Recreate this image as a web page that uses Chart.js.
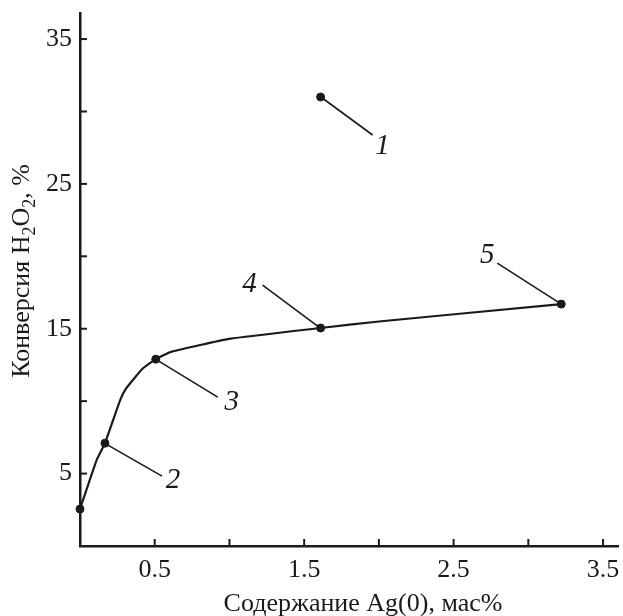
<!DOCTYPE html>
<html>
<head>
<meta charset="utf-8">
<script src="https://cdn.jsdelivr.net/npm/chart.js@4"></script>
<style>
  html, body { margin: 0; padding: 0; background: #fff; }
  #wrap { width: 623px; height: 616px; }
</style>
</head>
<body>
<div id="wrap"><canvas id="chart" width="623" height="616"></canvas></div>
<script>
// Кривая конверсии (точки)
const curveX = [0, 0.11, 0.167, 0.27, 0.31, 0.42, 0.507, 0.61, 1.0, 1.61, 2.0, 3.22];
const curveY = [2.55, 5.9, 7.1, 10.1, 10.9, 12.25, 12.9, 13.4, 14.3, 15.05, 15.5, 16.7];

// Экспериментальные точки и их номера
const markerX      = [0, 1.61, 0.167, 0.507, 1.61, 3.22];
const markerY      = [2.55, 31.0, 7.1, 12.9, 15.05, 16.7];
const markerLabels = ["", "1", "2", "3", "4", "5"];

// Деления осей
const xTicks      = [0.5, 1, 1.5, 2, 2.5, 3, 3.5];
const xTickLabels = ["0.5", "1.5", "2.5", "3.5"];
const yTicks      = [5, 10, 15, 20, 25, 30, 35];
const yTickLabels = ["5", "15", "25", "35"];

const xTitle = "Содержание Ag(0), мас%";
// [текст, нижний индекс?]
const yTitleParts = [["Конверсия H", false], ["2", true], ["O", false], ["2", true], [", %", false]];

// Выноски: смещения в пикселях от точки (линия и подпись)
const LEADERS = {
  "1": { line: [3, 2, 52, 38],    text: [62, 48] },
  "2": { line: [3, 2, 57, 33],    text: [68, 36] },
  "3": { line: [3, 2, 62, 38],    text: [76, 42] },
  "4": { line: [-58, -43, -3, -2], text: [-71, -45] },
  "5": { line: [-64, -41, -3, -2], text: [-74, -50] }
};

const INK   = "#1a1a1a";
const SERIF = "'Liberation Serif', 'Times New Roman', serif";

const toXY = (xs, ys) => xs.map((x, i) => ({ x, y: ys[i] }));

// Засечки внутрь области графика
const innerTicks = {
  id: "innerTicks",
  afterDraw(chart) {
    const { ctx, chartArea: a, scales: { x, y } } = chart;
    ctx.save();
    ctx.strokeStyle = INK;
    ctx.lineWidth = 2;
    xTicks.forEach(v => {
      const px = x.getPixelForValue(v);
      ctx.beginPath(); ctx.moveTo(px, a.bottom); ctx.lineTo(px, a.bottom - 7); ctx.stroke();
    });
    yTicks.forEach(v => {
      const py = y.getPixelForValue(v);
      ctx.beginPath(); ctx.moveTo(a.left, py); ctx.lineTo(a.left + 7, py); ctx.stroke();
    });
    ctx.restore();
  }
};

// Подписи осей (с нижними индексами)
const axisTitles = {
  id: "axisTitles",
  afterDraw(chart) {
    const { ctx } = chart;
    ctx.save();
    ctx.fillStyle = INK;
    ctx.textBaseline = "alphabetic";
    ctx.font = `26px ${SERIF}`;
    ctx.textAlign = "center";
    ctx.fillText(xTitle, 363, 611);

    // вертикальная подпись
    const big = `26px ${SERIF}`, small = `18px ${SERIF}`;
    let total = 0;
    yTitleParts.forEach(([t, sub]) => { ctx.font = sub ? small : big; total += ctx.measureText(t).width; });
    ctx.translate(29, 271);
    ctx.rotate(-Math.PI / 2);
    ctx.textAlign = "left";
    let cx = -total / 2;
    yTitleParts.forEach(([t, sub]) => {
      ctx.font = sub ? small : big;
      ctx.fillText(t, cx, sub ? 6 : 0);
      cx += ctx.measureText(t).width;
    });
    ctx.restore();
  }
};

// Выноски с номерами точек
const leaders = {
  id: "leaders",
  afterDatasetsDraw(chart) {
    const { ctx, scales: { x, y } } = chart;
    ctx.save();
    ctx.strokeStyle = INK;
    ctx.fillStyle = INK;
    ctx.lineWidth = 1.6;
    ctx.font = `italic 29px ${SERIF}`;
    ctx.textAlign = "center";
    ctx.textBaseline = "middle";
    markerLabels.forEach((lbl, i) => {
      const cfg = LEADERS[lbl];
      if (!cfg) return;
      const px = x.getPixelForValue(markerX[i]);
      const py = y.getPixelForValue(markerY[i]);
      const [x1, y1, x2, y2] = cfg.line;
      ctx.beginPath(); ctx.moveTo(px + x1, py + y1); ctx.lineTo(px + x2, py + y2); ctx.stroke();
      ctx.fillText(lbl, px + cfg.text[0], py + cfg.text[1] + 1);
    });
    ctx.restore();
  }
};

new Chart(document.getElementById("chart"), {
  type: "scatter",
  data: {
    datasets: [
      {
        type: "line",
        data: toXY(curveX, curveY),
        borderColor: INK,
        borderWidth: 2.2,
        pointRadius: 0,
        tension: 0.15,
        fill: false,
        clip: false
      },
      {
        data: toXY(markerX, markerY),
        backgroundColor: INK,
        borderColor: INK,
        pointRadius: 4,
        pointHoverRadius: 4,
        clip: false
      }
    ]
  },
  options: {
    responsive: false,
    animation: false,
    events: [],
    layout: { padding: { top: 13, right: 3, left: 0, bottom: 0 } },
    plugins: {
      legend: { display: false },
      tooltip: { enabled: false }
    },
    scales: {
      x: {
        type: "linear",
        min: 0,
        max: 3.6,
        afterBuildTicks: s => { s.ticks = xTicks.map(v => ({ value: v })); },
        afterFit: s => { s.height = 70; s.paddingLeft = 0; s.paddingRight = 0; },
        grid: { display: false, drawTicks: false },
        border: { display: true, color: INK, width: 2.5 },
        ticks: {
          padding: 9,
          color: INK,
          font: { family: SERIF, size: 26 },
          maxRotation: 0,
          autoSkip: false,
          callback: v => {
            const s = Number(v).toFixed(1);
            return xTickLabels.includes(s) ? s : "";
          }
        }
      },
      y: {
        type: "linear",
        min: 0,
        max: 36.8,
        afterBuildTicks: s => { s.ticks = yTicks.map(v => ({ value: v })); },
        afterFit: s => { s.width = 80; s.paddingTop = 0; s.paddingBottom = 0; },
        grid: { display: false, drawTicks: false },
        border: { display: true, color: INK, width: 2.5 },
        ticks: {
          padding: 8,
          color: INK,
          font: { family: SERIF, size: 26 },
          autoSkip: false,
          callback: v => yTickLabels.includes(String(v)) ? String(v) : ""
        }
      }
    }
  },
  plugins: [innerTicks, leaders, axisTitles]
});
</script>
</body>
</html>
